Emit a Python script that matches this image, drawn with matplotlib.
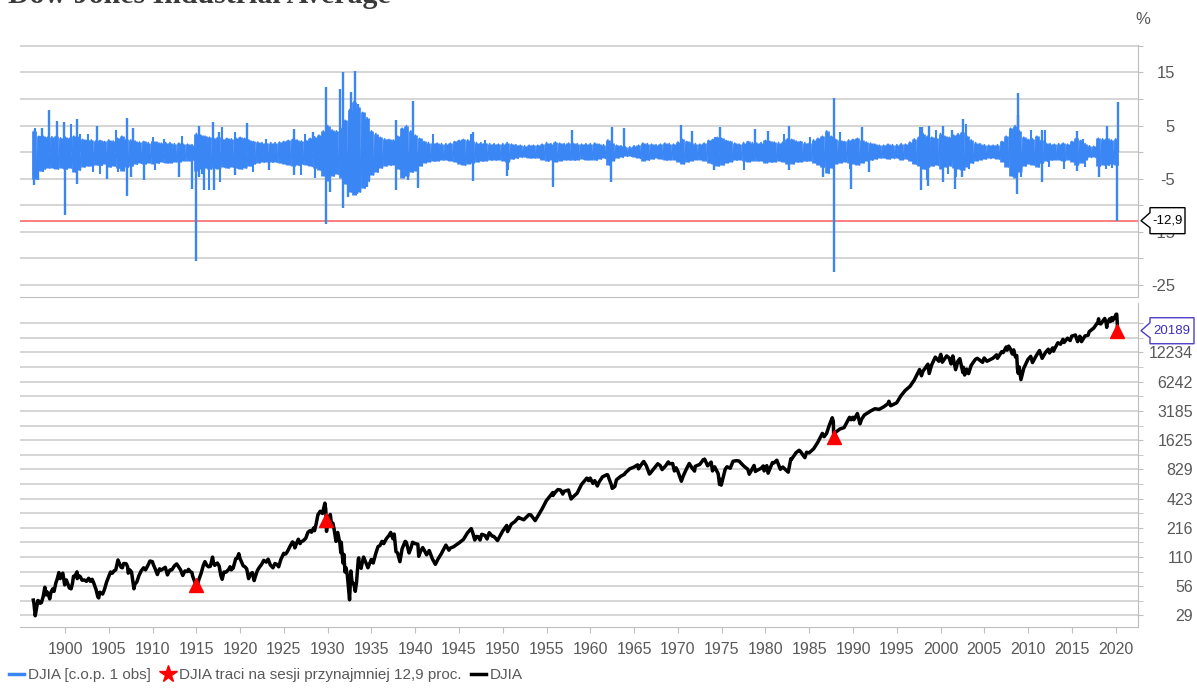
import numpy as np
import matplotlib
matplotlib.use("Agg")
import matplotlib.pyplot as plt
from matplotlib.lines import Line2D
from matplotlib.patches import Polygon
from matplotlib.transforms import IdentityTransform

plt.rcParams['font.family'] = ['Liberation Sans Narrow', 'Liberation Sans', 'DejaVu Sans']

# ---- DJIA level ----
djia_years = [
    1896.38, 1896.45, 1896.6, 1896.75, 1896.9, 1897.0, 1897.15, 1897.3, 1897.5, 1897.7, 1897.85, 1897.95,
    1898.1, 1898.25, 1898.4, 1898.6, 1898.75, 1898.95, 1899.1, 1899.3, 1899.45, 1899.6, 1899.75, 1899.9, 1899.96,
    1900.15, 1900.3, 1900.5, 1900.7, 1900.85, 1900.97, 1901.1, 1901.3, 1901.37, 1901.4, 1901.55, 1901.75, 1901.95,
    1902.2, 1902.45, 1902.7, 1902.9, 1902.98, 1903.1, 1903.3, 1903.55, 1903.75, 1903.85, 1903.98,
    1904.3, 1904.5, 1904.75, 1904.98, 1905.2, 1905.4, 1905.6, 1905.8, 1905.98, 1906.05, 1906.2, 1906.4, 1906.55,
    1906.7, 1906.98, 1907.15, 1907.22, 1907.4, 1907.6, 1907.87, 1907.98, 1908.2, 1908.45, 1908.7, 1908.98,
    1909.2, 1909.5, 1909.7, 1909.98,
    1910.1, 1910.3, 1910.55, 1910.8, 1910.98, 1911.2, 1911.45, 1911.7, 1911.98, 1912.2, 1912.5, 1912.75, 1912.98,
    1913.2, 1913.45, 1913.7, 1913.98, 1914.1, 1914.3, 1914.5, 1914.57, 1914.95, 1915.1, 1915.3, 1915.55, 1915.8,
    1915.98, 1916.2, 1916.4, 1916.6, 1916.85, 1916.98, 1917.1, 1917.4, 1917.6, 1917.8, 1917.95, 1918.15, 1918.4,
    1918.7, 1918.85, 1918.98, 1919.2, 1919.5, 1919.65, 1919.85, 1919.98,
    1920.1, 1920.35, 1920.55, 1920.75, 1920.97, 1921.2, 1921.4, 1921.6, 1921.8, 1921.98, 1922.2, 1922.45, 1922.7,
    1922.98, 1923.2, 1923.45, 1923.75, 1923.98, 1924.2, 1924.4, 1924.65, 1924.98, 1925.2, 1925.4, 1925.7, 1925.98,
    1926.1, 1926.25, 1926.5, 1926.65, 1926.85, 1926.98, 1927.2, 1927.5, 1927.75, 1927.98, 1928.15, 1928.4, 1928.5,
    1928.7, 1928.9, 1928.98, 1929.15, 1929.4, 1929.55, 1929.68, 1929.78, 1929.82, 1929.87, 1929.98,
    1930.15, 1930.3, 1930.45, 1930.6, 1930.75, 1930.95, 1931.15, 1931.4, 1931.5, 1931.55, 1931.75, 1931.85, 1931.98,
    1932.1, 1932.25, 1932.4, 1932.5, 1932.65, 1932.8, 1932.98, 1933.15, 1933.3, 1933.5, 1933.55, 1933.6, 1933.75,
    1933.82, 1933.98, 1934.1, 1934.3, 1934.6, 1934.75, 1934.98, 1935.2, 1935.5, 1935.75, 1935.98, 1936.2, 1936.4,
    1936.7, 1936.98, 1937.2, 1937.45, 1937.6, 1937.8, 1937.98, 1938.25, 1938.5, 1938.85, 1938.98, 1939.3, 1939.5,
    1939.7, 1939.98,
    1940.3, 1940.4, 1940.6, 1940.85, 1940.98, 1941.3, 1941.6, 1941.95, 1942.3, 1942.6, 1942.98, 1943.5, 1943.85,
    1943.98, 1944.4, 1944.98, 1945.5, 1945.98, 1946.4, 1946.55, 1946.8, 1946.98, 1947.2, 1947.4, 1947.6, 1947.98,
    1948.2, 1948.45, 1948.8, 1948.98, 1949.4, 1949.7, 1949.98,
    1950.45, 1950.55, 1950.98, 1951.4, 1951.8, 1951.98, 1952.4, 1952.98, 1953.2, 1953.7, 1953.98, 1954.5, 1954.98,
    1955.5, 1955.72, 1955.74, 1955.98, 1956.3, 1956.6, 1956.85, 1956.98, 1957.5, 1957.8, 1957.98, 1958.5, 1958.98,
    1959.6, 1959.8, 1959.98,
    1960.3, 1960.5, 1960.8, 1960.98, 1961.4, 1961.9, 1961.98, 1962.4, 1962.5, 1962.8, 1962.98, 1963.5, 1963.9,
    1963.98, 1964.5, 1964.98, 1965.4, 1965.5, 1965.98, 1966.1, 1966.4, 1966.75, 1966.98, 1967.7, 1967.98, 1968.2,
    1968.6, 1968.9, 1968.98, 1969.4, 1969.6, 1969.8, 1969.98,
    1970.4, 1970.6, 1970.98, 1971.3, 1971.6, 1971.9, 1971.98, 1972.5, 1972.9, 1972.98, 1973.05, 1973.4, 1973.8,
    1973.95, 1974.2, 1974.6, 1974.76, 1974.85, 1974.95, 1975.4, 1975.6, 1975.98, 1976.3, 1976.7, 1976.98, 1977.5,
    1977.98, 1978.15, 1978.7, 1978.85, 1978.98, 1979.5, 1979.75, 1979.85, 1979.98,
    1980.15, 1980.3, 1980.8, 1980.98, 1981.3, 1981.7, 1981.98, 1982.6, 1982.9, 1982.98, 1983.5, 1983.85, 1983.98,
    1984.5, 1984.7, 1984.98, 1985.5, 1985.98, 1986.5, 1986.7, 1986.98, 1987.3, 1987.63, 1987.75, 1987.8, 1987.98,
    1988.5, 1988.98, 1989.6, 1989.78, 1989.98,
    1990.1, 1990.5, 1990.8, 1990.98, 1991.3, 1991.98, 1992.5, 1992.98, 1993.5, 1993.98, 1994.1, 1994.3, 1994.98,
    1995.5, 1995.98, 1996.5, 1996.98, 1997.6, 1997.82, 1997.98, 1998.55, 1998.7, 1998.98, 1999.4, 1999.8, 1999.98,
    2000.03, 2000.2, 2000.7, 2000.98, 2001.2, 2001.4, 2001.72, 2001.98, 2002.2, 2002.55, 2002.6, 2002.75, 2002.98,
    2003.2, 2003.5, 2003.98, 2004.2, 2004.8, 2004.98, 2005.3, 2005.98, 2006.4, 2006.5, 2006.98, 2007.15, 2007.5,
    2007.6, 2007.78, 2007.98, 2008.2, 2008.35, 2008.55, 2008.7, 2008.78, 2008.88, 2008.98, 2009.18, 2009.5, 2009.98,
    2010.3, 2010.5, 2010.98, 2011.3, 2011.6, 2011.98, 2012.3, 2012.45, 2012.8, 2012.9, 2012.98, 2013.4, 2013.7,
    2013.98, 2014.1, 2014.5, 2014.8, 2014.98, 2015.4, 2015.65, 2015.9, 2015.98, 2016.1, 2016.5, 2016.85, 2016.98,
    2017.5, 2017.98, 2018.05, 2018.1, 2018.3, 2018.75, 2018.9, 2018.98, 2019.0, 2019.3, 2019.4, 2019.55, 2019.65,
    2019.98, 2020.05, 2020.12, 2020.17, 2020.19, 2020.205,
]
djia_vals = [
    40.9, 38, 28.5, 34, 40.5, 40, 38, 38.5, 44, 55, 46, 49.4,
    47, 42, 49, 53, 50, 60.5, 66, 77, 67, 73, 76, 63, 58,
    65, 60, 54, 53, 60, 70.7, 70, 76, 78.3, 67, 72, 70, 64.6,
    65, 63, 67.5, 63, 64.3, 66, 60, 52, 44, 43, 49,
    47, 52, 62, 69.6, 78, 76, 80, 82, 96.2, 103, 96, 87, 86,
    95, 94.4, 88, 76, 82, 78, 53, 59, 62, 72, 80, 86,
    82, 92, 100.5, 99,
    92, 84, 73.6, 84, 81.4, 84, 87, 73, 81.7, 82, 90, 94, 87.9,
    82, 72.1, 80, 78.8, 83, 79, 77, 71.4, 58, 57, 66, 76, 91,
    99, 91, 88, 89, 110, 95, 91, 96, 90, 72, 66, 78, 78,
    83, 88, 82, 85, 106, 107, 119, 107,
    101, 90, 88, 84, 67, 75, 77, 64, 73, 81, 87, 93, 102,
    98, 105, 92, 86, 95, 93, 88, 104, 120, 118, 125, 141, 156,
    153, 136, 155, 166, 150, 157, 160, 170, 195, 202, 195, 215, 202,
    240, 295, 300, 316, 300, 340, 381, 330, 260.6, 199, 248,
    265, 294, 230, 240, 205, 158, 194, 150, 122, 155, 96, 117, 78,
    86, 72, 52, 41.2, 79.9, 60, 60, 50, 62, 105, 108, 88, 94,
    85, 100, 110, 100, 86, 93, 104, 96, 120, 140, 144, 158, 150,
    168, 180, 194, 168, 187, 125, 121, 99, 133, 158, 155, 121, 135,
    155, 150,
    148, 112, 125, 137, 131, 116, 128, 106, 93, 105, 119, 145, 129,
    135, 140, 152, 165, 193, 212, 195, 163, 177, 176, 163, 186, 181,
    167, 193, 178, 177, 161, 180, 200,
    228, 198, 235, 250, 275, 269, 260, 292, 291, 255, 281, 335, 404,
    460, 487, 455, 488, 521, 515, 470, 500, 515, 419, 436, 480, 584,
    678, 640, 679,
    600, 640, 566, 616, 700, 734, 731, 580, 535, 560, 652, 710, 740,
    763, 840, 874, 920, 840, 969, 995, 900, 744, 786, 943, 905, 825,
    900, 985, 944, 950, 800, 860, 800,
    631, 710, 839, 950, 860, 797, 890, 930, 1036, 1020, 1051, 900, 980,
    800, 880, 750, 585, 660, 577, 830, 880, 852, 1000, 1014, 1005, 900,
    831, 742, 907, 790, 805, 850, 897, 800, 839,
    903, 759, 970, 964, 1024, 830, 875, 777, 1060, 1047, 1220, 1287, 1259,
    1086, 1230, 1212, 1330, 1547, 1900, 1760, 1896, 2300, 2722, 2500, 1738, 1939,
    2100, 2169, 2750, 2600, 2753,
    2600, 2999, 2365, 2634, 2900, 3169, 3350, 3301, 3500, 3754, 3978, 3590, 3834,
    4550, 5117, 5600, 6448, 8259, 7160, 7908, 9338, 7539, 9181, 11000, 10000, 11497,
    11722, 9796, 11300, 10787, 9400, 11300, 8236, 10021, 10600, 7702, 8700, 7286, 8341,
    7524, 9100, 10453, 10700, 9750, 10783, 10000, 10717, 11600, 10700, 12463, 12200, 13900,
    12900, 14164, 13264, 11800, 13000, 11000, 11400, 8450, 7550, 8776, 6547, 8500, 10428,
    11200, 9700, 11578, 12800, 10700, 12218, 13200, 12100, 13600, 12600, 13104, 15300, 14800,
    16577, 15400, 17000, 16100, 17823, 18300, 15700, 17800, 17425, 15700, 17900, 18200, 19763,
    21500, 24719, 26600, 24000, 23600, 26800, 24500, 21800, 23327, 26500, 25000, 27300, 25500,
    28538, 29500, 29551, 25400, 23200, 20189,
]
assert len(djia_years) == len(djia_vals)

# sessions with a loss of at least 12.9%
crash_years = [1914.95, 1929.82, 1987.8, 2020.205]
crash_vals = [58, 260.6, 1738, 20189]

# ---- daily change (%): half-year envelope of the dense band ----
band_years = np.arange(1896.5, 2020.01, 0.5)
band_hi = [
    4.0, 3.0, 3.0, 2.8, 2.9, 3.0, 2.7,
    2.9, 2.6, 3.0, 2.8, 2.4, 2.2, 2.3, 2.1, 2.2, 2.0, 2.3, 2.1, 2.6, 3.0, 2.5, 2.3, 2.1, 1.9, 2.0, 1.8,
    2.0, 1.9, 1.7, 1.8, 1.8, 1.6, 1.7, 1.5, 1.5, 1.4, 3.5, 3.2, 3.0, 2.8, 2.6, 2.8, 2.4, 2.6, 2.5, 2.7,
    2.8, 2.6, 2.3, 2.0, 1.9, 1.8, 1.7, 1.8, 1.8, 1.9, 2.0, 2.2, 2.4, 2.3, 2.1, 2.2, 2.6, 2.9, 3.2, 4.0,
    5.0, 4.2, 4.0, 4.5, 6.0, 8.0, 9.5, 8.5, 7.5, 6.5, 4.0, 3.5, 2.8, 2.5, 2.4, 2.3, 3.0, 4.5, 5.0, 4.0,
    3.2, 2.6, 2.0, 1.8, 1.8, 1.7, 1.6, 1.6, 1.7, 2.0, 2.2, 2.4, 2.3, 2.0, 1.8, 1.8, 1.7, 1.6, 1.6, 1.5,
    1.6, 1.8, 1.5, 1.4, 1.3, 1.2, 1.3, 1.3, 1.3, 1.5, 1.8, 1.6, 1.9, 1.7, 1.6, 1.7, 1.7, 1.6, 1.5, 1.6,
    1.6, 1.7, 1.5, 1.4, 2.3, 1.8, 1.3, 1.2, 1.0, 1.0, 1.2, 1.3, 1.7, 1.6, 1.5, 1.4, 1.5, 1.7, 1.6, 1.5,
    1.9, 2.4, 2.0, 1.8, 1.6, 1.5, 1.7, 2.2, 2.4, 2.8, 2.6, 2.2, 2.0, 1.7, 1.5, 1.8, 2.0, 1.8, 1.7, 1.8,
    2.2, 2.0, 1.9, 1.8, 1.9, 2.5, 2.4, 2.1, 2.0, 1.8, 1.7, 2.3, 2.6, 3.0, 4.0, 3.0, 2.4, 2.2, 2.0, 2.3,
    2.4, 2.6, 2.2, 1.9, 1.7, 1.5, 1.3, 1.3, 1.5, 1.4, 1.4, 1.6, 1.5, 1.9, 2.5, 2.8, 3.5, 3.0, 2.8, 2.7,
    3.5, 3.0, 2.8, 3.2, 3.5, 3.8, 3.0, 2.3, 1.8, 1.6, 1.4, 1.3, 1.3, 1.4, 2.0, 3.0, 4.5, 5.0, 4.0, 2.8,
    2.4, 2.5, 3.0, 2.2, 1.8, 1.6, 1.5, 1.6, 1.7, 1.5, 2.0, 2.6, 2.2, 1.6, 1.2, 1.1, 2.6, 2.5, 2.7, 2.3,
    2.5,
]
band_lo = [
    -5.0, -3.5, -3.2, -3.0, -3.0, -3.2, -3.0,
    -3.2, -3.0, -3.8, -3.4, -2.8, -2.6, -2.6, -2.4, -2.5, -2.3, -2.8, -2.6, -3.0, -3.5, -2.8, -2.6, -2.3, -2.1, -2.2, -2.0,
    -2.2, -2.1, -1.9, -2.0, -2.0, -1.8, -1.8, -1.6, -1.6, -1.5, -3.5, -3.2, -3.0, -3.2, -3.0, -3.2, -2.8, -3.0, -2.8, -3.0,
    -3.2, -3.0, -2.6, -2.2, -2.0, -1.9, -1.8, -1.9, -1.9, -2.0, -2.2, -2.4, -2.6, -2.5, -2.3, -2.4, -2.7, -3.0, -3.4, -4.5,
    -5.5, -4.5, -4.2, -4.8, -6.0, -7.5, -8.0, -7.5, -6.8, -5.5, -4.3, -3.8, -3.0, -2.6, -2.5, -2.5, -3.2, -4.8, -4.5, -3.8,
    -3.6, -2.6, -2.0, -1.8, -1.7, -1.6, -1.5, -1.5, -1.6, -1.8, -2.3, -2.5, -2.2, -2.0, -1.8, -1.7, -1.6, -1.5, -1.5, -1.4,
    -1.6, -1.8, -1.3, -1.2, -1.0, -1.0, -1.1, -1.1, -1.1, -1.4, -1.7, -1.5, -1.8, -1.6, -1.4, -1.5, -1.5, -1.4, -1.3, -1.4,
    -1.4, -1.5, -1.3, -1.2, -2.5, -1.6, -1.1, -1.0, -0.8, -0.8, -1.0, -1.2, -1.6, -1.5, -1.3, -1.2, -1.3, -1.5, -1.4, -1.4,
    -1.8, -2.2, -1.8, -1.6, -1.4, -1.4, -1.6, -2.0, -2.3, -2.6, -2.4, -2.0, -1.8, -1.5, -1.4, -1.6, -1.8, -1.6, -1.6, -1.7,
    -2.0, -1.9, -1.8, -1.7, -1.8, -2.2, -2.2, -1.9, -1.8, -1.7, -1.6, -2.0, -2.4, -2.8, -4.0, -3.0, -2.2, -2.0, -1.8, -2.0,
    -2.2, -2.4, -2.0, -1.7, -1.5, -1.3, -1.1, -1.1, -1.3, -1.2, -1.2, -1.4, -1.3, -1.7, -2.3, -2.6, -3.2, -2.8, -2.6, -2.5,
    -3.2, -2.8, -2.6, -3.0, -3.2, -3.4, -2.8, -2.1, -1.6, -1.4, -1.3, -1.2, -1.2, -1.3, -1.8, -2.8, -4.5, -4.8, -3.8, -2.6,
    -2.2, -2.4, -2.8, -2.0, -1.7, -1.5, -1.4, -1.5, -1.6, -1.4, -1.8, -2.4, -2.0, -1.4, -1.0, -1.0, -2.6, -2.4, -2.5, -2.2,
    -2.4,
]
assert len(band_hi) == len(band_years) == len(band_lo)

# large sessions that stick out of the band
spike_years = [
    1896.45, 1896.9, 1897.4, 1898.2, 1899.05, 1899.85, 1899.95, 1901.35, 1901.36, 1903.7, 1904.8, 1907.1,
    1907.12, 1907.5, 1907.8, 1909.05, 1913.0, 1914.45, 1914.95, 1915.3, 1915.32, 1915.9, 1916.9, 1917.0,
    1917.6, 1919.4, 1920.8, 1923.3, 1926.1, 1926.12, 1928.3, 1929.82, 1929.83, 1930.3, 1931.4, 1931.7,
    1931.72, 1932.35, 1932.65, 1933.15, 1933.4, 1933.5, 1934.5, 1937.8, 1937.82, 1939.2, 1939.7, 1940.35,
    1946.6, 1946.62, 1950.5, 1955.75, 1957.85, 1962.4, 1962.42, 1963.9, 1970.4, 1971.6, 1974.1, 1974.8,
    1978.8, 1980.3, 1982.7, 1982.72, 1986.6, 1987.8, 1987.82, 1989.8, 1991.0, 1991.85, 1997.82, 1997.84,
    1998.65, 1998.62, 2000.3, 2000.28, 2001.3, 2001.7, 2002.55, 2002.5, 2008.8, 2008.78, 2008.9, 2011.6,
    2011.62, 2015.6, 2015.58, 2018.1, 2018.98, 2020.2, 2020.24,
]
spike_vals = [
    -6.2, -5.3, 4.5, 8.0, 5.8, 5.7, -11.8, 6.3, -6.0, 5.0, -5.0, 6.5,
    -8.2, -4.6, 4.5, -5.2, -4.7, -6.9, -20.4, 5.0, -4.7, -7.2, 5.6, -7.1,
    3.8, -4.4, 5.4, -3.4, 4.4, -4.4, 3.8, 12.3, -13.5, -7.5, 11.9, 15.0,
    -10.6, -8.4, 11.3, 15.3, -7.8, 9.1, -6.6, 6.1, -7.2, -5.3, 9.6, -6.8,
    3.7, -5.5, -4.5, -6.5, 4.1, -5.7, 4.7, 4.6, 5.1, 3.9, -3.4, 4.8,
    4.4, 3.9, 5.0, -3.4, -4.7, 10.2, -22.6, -6.9, 4.7, -3.8, -7.2, 4.8,
    5.0, -6.4, 5.0, -5.6, 4.1, -7.0, 6.3, -4.7, 11.1, -7.9, 6.9, -5.6,
    4.1, 4.0, -3.6, -4.7, 5.0, -12.9, 9.4,
]
assert len(spike_years) == len(spike_vals)

# medium sessions that make the band ragged
bump_years = [
    1896.6, 1897.2, 1897.45, 1900.65, 1901.7, 1902.6, 1903.2, 1904.0, 1905.8, 1906.1, 1910.1, 1910.3,
    1911.3, 1913.4, 1915.6, 1916.4, 1917.7, 1917.9, 1919.45, 1921.5, 1923.0, 1927.0, 1927.4, 1928.5,
    1942.05, 1946.4, 1948.0, 1950.6, 1974.2, 1977.6, 1982.1, 1985.05, 1988.5, 1989.7, 1997.6, 1998.4,
    1999.5, 2000.9, 2001.8, 2002.9, 2003.2, 2007.9, 2008.3, 2009.2, 2010.35, 2010.4, 2011.9, 2012.4,
    2014.1, 2016.3, 2016.5, 2018.9, 2019.6,
]
bump_vals = [
    4.6, 3.1, -3.8, 5.3, 3.4, 3.4, -3.8, -4.1, 4.2, -3.8, 2.8, -3.4,
    2.5, 3.1, -4.1, -7.2, -5.6, 4.7, 3.8, -3.8, 2.5, -4.4, 3.4, -4.8,
    3.4, 3.4, 2.3, -3.4, 2.8, -3.4, 3.4, 2.8, 3.8, -3.1, 4.7, -5.3,
    4.1, -4.1, -4.7, 5.3, -3.1, 3.8, -3.4, -4.7, 4.1, -2.5, 4.1, -2.8,
    -3.1, 2.5, -2.8, -3.1, -3.0,
]
assert len(bump_years) == len(bump_vals)

threshold = -12.9
last_close = 20189

pct_ticks = [-25, -20, -15, -10, -5, 0, 5, 10, 15, 20]
pct_labels = ['-25', '', '-15', '', '-5', '', '5', '', '15', '']
lvl_ticks = [29, 56, 110, 216, 423, 829, 1625, 3185, 6242, 12234, 23950]
lvl_labels = ['29', '56', '110', '216', '423', '829', '1625', '3185', '6242', '12234', '']
year_ticks = list(range(1900, 2021, 5))

BLUE = '#3b86f5'
GRID = '#d2d2d2'
AXC = '#bfbfbf'
TXT = '#595959'

W, H = 1197, 689
fig = plt.figure(figsize=(W / 100, H / 100), dpi=100)
ax1 = fig.add_axes([20 / W, 1 - 297 / H, 1118 / W, 252 / H])
ax2 = fig.add_axes([20 / W, 1 - 627 / H, 1118 / W, 324.3 / H])
xlim = (1894.86, 2022.55)

# ---- top: daily changes ----
ax1.vlines(band_years, band_lo, band_hi, color=BLUE, lw=3.4, zorder=3)
zig_x = np.column_stack([band_years, band_years + 0.25]).ravel()
zig_y = np.column_stack([band_hi, band_lo]).ravel()
ax1.plot(zig_x, zig_y, color=BLUE, lw=1.2, zorder=3)
ax1.vlines(bump_years, 0, bump_vals, color=BLUE, lw=1.5, zorder=3)
ax1.vlines(spike_years, 0, spike_vals, color=BLUE, lw=1.7, zorder=3)
ax1.axhline(threshold, color='#ff5a5a', lw=1.1, zorder=2)
ax1.set_xlim(*xlim)
ax1.set_ylim(-27.26, 20.15)
ax1.set_yticks(pct_ticks)
ax1.set_yticklabels(pct_labels)
ax1.yaxis.tick_right()
ax1.tick_params(axis='y', length=3.6, color=AXC, labelcolor=TXT, labelsize=12, pad=23)
for lab in ax1.get_yticklabels():
    lab.set_horizontalalignment('right')
ax1.tick_params(axis='x', bottom=False, labelbottom=False)
ax1.grid(axis='y', color=GRID, lw=1.3)
ax1.set_axisbelow(True)
for s in ['top', 'left']:
    ax1.spines[s].set_visible(False)
for s in ['right', 'bottom']:
    ax1.spines[s].set_color(AXC)

# ---- bottom: index level, log scale ----
ax2.plot(djia_years, djia_vals, color='black', lw=2.5, zorder=3)
ax2.plot(crash_years, crash_vals, ls='none', marker='^', color='red', markersize=9.5, zorder=4)
ax2.set_yscale('log')
ax2.set_xlim(*xlim)
ax2.set_ylim(22.0, 38500)
ax2.yaxis.set_major_locator(matplotlib.ticker.FixedLocator(lvl_ticks))
ax2.yaxis.set_major_formatter(matplotlib.ticker.FixedFormatter(lvl_labels))
mids = [np.sqrt(a * b) for a, b in zip(lvl_ticks[:-1], lvl_ticks[1:])]
ax2.yaxis.set_minor_locator(matplotlib.ticker.FixedLocator(mids))
ax2.yaxis.set_minor_formatter(matplotlib.ticker.NullFormatter())
ax2.yaxis.tick_right()
ax2.tick_params(axis='y', which='both', length=3.6, color=AXC, labelcolor=TXT, labelsize=11.5, pad=36)
for lab in ax2.get_yticklabels():
    lab.set_horizontalalignment('right')
ax2.set_xticks(year_ticks)
ax2.tick_params(axis='x', length=4, color=AXC, labelcolor=TXT, labelsize=11.5, pad=7)
ax2.grid(axis='y', which='both', color=GRID, lw=1.3)
ax2.set_axisbelow(True)
for s in ['top', 'left']:
    ax2.spines[s].set_visible(False)
for s in ['right', 'bottom']:
    ax2.spines[s].set_color(AXC)


def callout(ax, value, text, edge, tcolor, width):
    xt, yt = ax.transData.transform((xlim[1], value))
    xt += 3
    pts = [(xt, yt), (xt + 9, yt + 8), (xt + 9, yt + 13), (xt + 9 + width, yt + 13),
           (xt + 9 + width, yt - 13), (xt + 9, yt - 13), (xt + 9, yt - 7)]
    fig.add_artist(Polygon(pts, closed=True, transform=IdentityTransform(), facecolor='white',
                           edgecolor=edge, lw=1.0, zorder=10))
    fig.text(xt + 9 + width / 2, yt, text, transform=IdentityTransform(), ha='center', va='center',
             fontsize=9.5, color=tcolor, zorder=11)


callout(ax1, threshold, '-12,9', 'black', 'black', 35)
callout(ax2, last_close, str(last_close), '#4a3fc4', '#3a2fb8', 44)

fig.text(1143 / W, 1 - 20 / H, '%', ha='center', va='center', fontsize=12, color=TXT)
# title sits mostly above the top edge, as in the source image
fig.text(8 / W, 1 - 2.8 / H, 'Dow Jones Industrial Average', ha='left', va='baseline', fontsize=21.5,
         fontweight='bold', color='#3a3a3a', family=['Liberation Serif', 'DejaVu Serif'])

handles = [Line2D([], [], color=BLUE, lw=2.5),
           Line2D([], [], color='red', marker='*', ls='none', markersize=13),
           Line2D([], [], color='black', lw=2.5)]
labels = ['DJIA [c.o.p. 1 obs]', 'DJIA traci na sesji przynajmniej 12,9 proc.', 'DJIA']
fig.legend(handles, labels, loc='lower left', bbox_to_anchor=(0.0, -0.003), ncol=3, frameon=False,
           handlelength=1.0, handletextpad=0.25, columnspacing=0.6, fontsize=11, labelcolor=TXT,
           borderaxespad=0.2)

fig.savefig('out.png', dpi=100)
